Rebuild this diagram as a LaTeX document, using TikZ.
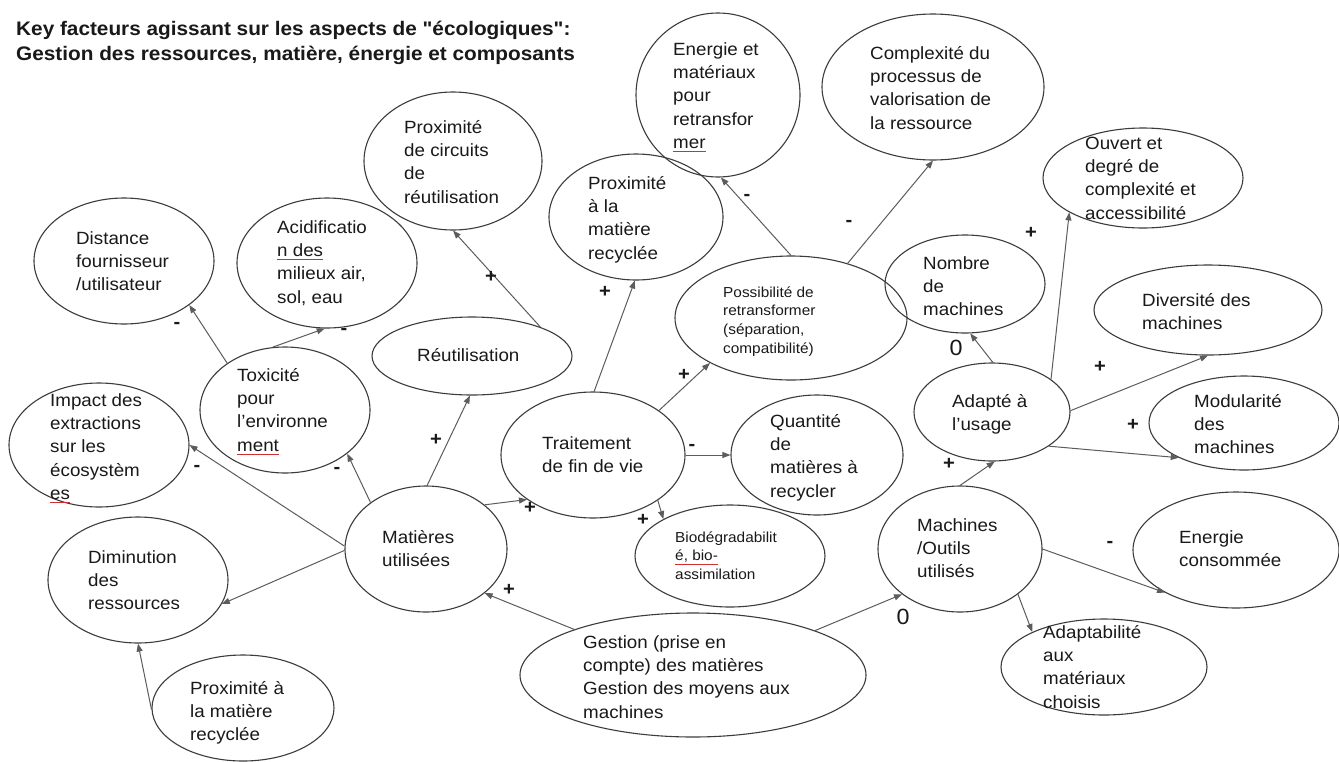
\documentclass[tikz,border=0pt]{standalone}
\usepackage{fontspec}
\setmainfont[FakeStretch=1.06,Ligatures=TeXOff]{Liberation Sans}
\usetikzlibrary{shapes.geometric,arrows.meta}
\definecolor{ecol}{HTML}{3C3C3C}
\definecolor{acol}{HTML}{5C5C5C}
\definecolor{splred}{HTML}{D03030}
\newcommand\sperr[1]{\setbox0=\hbox{#1}\rlap{\textcolor{splred}{\rule[-3.5pt]{\wd0}{0.9pt}}}\box0}
\newcommand\tstr{\rule{0pt}{14pt}}
\newcommand\tstrs{\rule{0pt}{12pt}}
\begin{document}
\begin{tikzpicture}[x=1pt,y=-1pt,
  bub/.style 2 args={ellipse, draw=ecol, line width=1.1pt, inner sep=0pt, minimum width=#1*2, minimum height=#2*2},
  txt/.style={anchor=north west, inner sep=0pt, align=left, text=black!90, font=\fontsize{17.7}{23.3}\selectfont},
  stxt/.style={txt, font=\fontsize{14.5}{18.7}\selectfont},
  sgn/.style={inner sep=0pt, text=black!90, font=\bfseries\fontsize{19}{19}\selectfont},
  zer/.style={inner sep=0pt, text=black!90, font=\fontsize{22}{22}\selectfont},
  conn/.style={draw=acol, line width=1pt, -{Triangle[length=8pt,width=6pt]}}
]
\fill[white] (0,0) rectangle (1339,761);
\useasboundingbox (0,0) rectangle (1339,761);

% title
\node[anchor=north west, inner sep=0pt, align=left, text=black!90, font=\bfseries\fontsize{19.6}{25}\selectfont] (title) at (16,20)
  {\rule{0pt}{15pt}Key facteurs agissant sur les aspects de "écologiques":\\Gestion des ressources, matière, énergie et composants};

% ellipses
\node[bub={90}{63}]  (dist)  at (124,261) {};
\node[bub={90}{65}]  (acid)  at (327,263) {};
\node[bub={89}{69}]  (circ)  at (453,161) {};
\node[bub={100}{39}] (reut)  at (472,356) {};
\node[bub={87}{63}]  (prox1) at (636,217) {};
\node[bub={82}{82}]  (ener)  at (718,95) {};
\node[bub={111}{73}] (compx) at (933,87) {};
\node[bub={100}{50}] (ouv)   at (1143,178) {};
\node[bub={116}{62}] (poss)  at (791,318) {};
\node[bub={80}{49}]  (nomb)  at (965,284) {};
\node[bub={114}{45}] (div)   at (1208,310) {};
\node[bub={90}{62}]  (imp)   at (99,445) {};
\node[bub={85}{63}]  (tox)   at (285,410) {};
\node[bub={81}{63}]  (mat)   at (426,549) {};
\node[bub={92}{63}]  (trait) at (593,455) {};
\node[bub={90}{63}]  (dim)   at (138,580) {};
\node[bub={91}{53}]  (prox2) at (243,708) {};
\node[bub={173}{62}] (gest)  at (693,675) {};
\node[bub={86}{60}]  (quant) at (817,455) {};
\node[bub={95}{51}]  (bio)   at (730,556) {};
\node[bub={78}{49}]  (adap)  at (992,412) {};
\node[bub={95}{47}]  (modu)  at (1244,423) {};
\node[bub={82}{63}]  (mach)  at (960,549) {};
\node[bub={103}{58}] (econs) at (1236,550) {};
\node[bub={103}{48}] (adapt) at (1104,667) {};

% texts
\node[txt] (tdist)  at (76,230)   {\tstr Distance\\fournisseur\\/utilisateur};
\node[txt] (tacid)  at (277,219)  {\tstr Acidificatio\\\sperr{n des}\\milieux air,\\sol, eau};
\node[txt] (tcirc)  at (404,119)  {\tstr Proximité\\de circuits\\de\\réutilisation};
\node[txt] (treut)  at (417,347)  {\tstr Réutilisation};
\node[txt] (tprox1) at (588,175)  {\tstr Proximité\\à la\\matière\\recyclée};
\node[txt] (tener)  at (673,41)   {\tstr Energie et\\matériaux\\pour\\retransfor\\\sperr{mer}};
\node[txt] (tcompx) at (870,45)   {\tstr Complexité du\\processus de\\valorisation de\\la ressource};
\node[txt] (touv)   at (1085,135) {\tstr Ouvert et\\degré de\\complexité et\\accessibilité};
\node[stxt] (tposs) at (723,285)  {\tstrs Possibilité de\\retransformer\\(séparation,\\compatibilité)};
\node[txt] (tnomb)  at (923,255)  {\tstr Nombre\\de\\machines};
\node[txt] (tdiv)   at (1142,292) {\tstr Diversité des\\machines};
\node[txt] (timp)   at (50,392)   {\tstr Impact des\\extractions\\sur les\\écosystèm\\\sperr{es}};
\node[txt] (ttox)   at (237,367)  {\tstr Toxicité\\pour\\l’environne\\\sperr{ment}};
\node[txt] (tmat)   at (382,529)  {\tstr Matières\\utilisées};
\node[txt] (ttrait) at (542,435)  {\tstr Traitement\\de fin de vie};
\node[txt] (tdim)   at (88,549)   {\tstr Diminution\\des\\ressources};
\node[txt] (tprox2) at (190,680)  {\tstr Proximité à\\la matière\\recyclée};
\node[txt] (tgest)  at (583,634)  {\tstr Gestion (prise en\\compte) des matières\\Gestion des moyens aux\\machines};
\node[txt] (tquant) at (770,413)  {\tstr Quantité\\de\\matières à\\recycler};
\node[stxt] (tbio)  at (675,530)  {\tstrs Biodégradabilit\\\sperr{é, bio-}\\assimilation};
\node[txt] (tadap)  at (952,393)  {\tstr Adapté à\\l’usage};
\node[txt] (tmodu)  at (1194,393) {\tstr Modularité\\des\\machines};
\node[txt] (tmach)  at (917,517)  {\tstr Machines\\/Outils\\utilisés};
\node[txt] (tecons) at (1179,529) {\tstr Energie\\consommée};
\node[txt] (tadapt) at (1043,624) {\tstr Adaptabilité\\aux\\matériaux\\choisis};

% connectors
\draw[conn] (tox.141.6) -- (dist.-34.3);
\draw[conn] (tox.101.7) -- (acid.-92);
\draw[conn] (reut.23.6) -- (circ.-90);
\draw[conn] (mat.89) -- (reut.-93);
\draw[conn] (mat.140.6) -- (tox.-35.2);
\draw[conn] (mat.178) -- (imp.0);
\draw[conn] (mat.181) -- (dim.-16);
\draw[conn] (prox2.181) -- (dim.-90);
\draw[conn] (mat.37.3) -- (trait.214.3);
\draw[conn] (gest.159.5) -- (mat.-37.7);
\draw[conn] (trait.89) -- (prox1.-91);
\draw[conn] (trait.34.9) -- (poss.209.4);
\draw[conn] (trait.0) -- (quant.180);
\draw[conn] (trait.-35.5) -- (bio.151.2);
\draw[conn] (poss.90) -- (ener.-88.6);
\draw[conn] (poss.44.5) -- (compx.-90.8);
\draw[conn] (adap.89) -- (nomb.-84.4);
\draw[conn] (adap.29.7) -- (ouv.205.3);
\draw[conn] (adap.1.5) -- (div.-90);
\draw[conn] (adap.-31.1) -- (modu.208);
\draw[conn] (mach.90) -- (adap.-87.6);
\draw[conn] (gest.20) -- (mach.218.2);
\draw[conn] (mach.0) -- (econs.211.7);
\draw[conn] (mach.-38.9) -- (adapt.154.7);

% signs
\node[sgn] (s1)  at (177,325) {-};
\node[sgn] (s2)  at (344,331) {-};
\node[sgn] (s3)  at (491,277) {+};
\node[sgn] (s4)  at (436,440) {+};
\node[sgn] (s5)  at (337,470) {-};
\node[sgn] (s6)  at (197,468) {-};
\node[sgn] (s9)  at (530,508) {+};
\node[sgn] (s10) at (509,590) {+};
\node[sgn] (s11) at (605,292) {+};
\node[sgn] (s12) at (684,375) {+};
\node[sgn] (s13) at (692,447) {-};
\node[sgn] (s14) at (643,520) {+};
\node[sgn] (s15) at (747,197) {-};
\node[sgn] (s16) at (849,223) {-};
\node[zer] (s17) at (956,348) {0};
\node[sgn] (s18) at (1031,233) {+};
\node[sgn] (s19) at (1100,367) {+};
\node[sgn] (s20) at (1133,425) {+};
\node[sgn] (s21) at (949,464) {+};
\node[zer] (s22) at (903,617) {0};
\node[sgn] (s23) at (1110,544) {-};
\end{tikzpicture}
\end{document}
